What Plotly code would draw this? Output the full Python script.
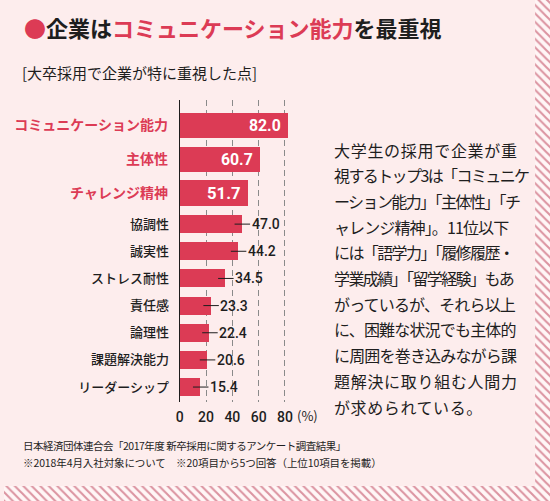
import plotly.graph_objects as go

# data
top_labels = ["コミュニケーション能力", "主体性", "チャレンジ精神"]
top_values = [82.0, 60.7, 51.7]
rest_labels = ["協調性", "誠実性", "ストレス耐性", "責任感", "論理性", "課題解決能力", "リーダーシップ"]
rest_values = [47.0, 44.2, 34.5, 23.3, 22.4, 20.6, 15.4]
x_ticks = [0, 20, 40, 60, 80]

title_parts = ["●", "企業は", "コミュニケーション能力", "を最重視"]
subtitle = "[大卒採用で企業が特に重視した点]"
body_lines = [
    "大学生の採用で企業が重",
    "視するトップ3は「コミュニケ",
    "ーション能力」「主体性」「チ",
    "ャレンジ精神」。11位以下",
    "には「語学力」「履修履歴・",
    "学業成績」「留学経験」もあ",
    "がっているが、それら以上",
    "に、困難な状況でも主体的",
    "に周囲を巻き込みながら課",
    "題解決に取り組む人間力",
    "が求められている。",
]
source_lines = [
    "日本経済団体連合会「2017年度 新卒採用に関するアンケート調査結果」",
    "※2018年4月入社対象について　※20項目から5つ回答（上位10項目を掲載）",
]

W, H = 550, 501
RED = "#dc3b55"
DARK = "#1e1e1e"
BG = "#fdeded"
JP = "Noto Sans CJK JP"
BODY_SIZE = 16
BODY_WIDTH = 183


def px(x):
    return x / W


def py(y):
    return 1 - y / H


def spacing(line):
    # rough text width: ascii ~0.55em, everything else full width
    units = sum(0.55 if ord(c) < 128 else 1.0 for c in line)
    ls = (BODY_WIDTH - units * BODY_SIZE) / max(len(line) - 1, 1)
    return max(ls, -1.6)


fig = go.Figure()

# top three bars, bigger
fig.add_trace(go.Bar(
    x=top_values, y=top_labels, orientation="h",
    xaxis="x", yaxis="y", width=0.74,
    marker=dict(color=RED, line=dict(width=0)),
    text=[f"{v:.1f} " for v in top_values],
    textposition="inside", insidetextanchor="end",
    textfont=dict(color="white", size=20, family="Roboto", weight=700),
    hoverinfo="skip",
))

# the rest
fig.add_trace(go.Bar(
    x=rest_values, y=rest_labels, orientation="h",
    xaxis="x2", yaxis="y2", width=0.66,
    marker=dict(color=RED, line=dict(width=0)),
    hoverinfo="skip",
))

# striped frame on right / bottom
fig.add_trace(go.Scatter(
    x=[535, 550, 550, 0, 0, 535, 535],
    y=[0, 0, 501, 501, 486, 486, 0],
    xaxis="x3", yaxis="y3",
    mode="lines", fill="toself", line=dict(width=0),
    fillcolor="rgba(0,0,0,0)",
    fillpattern=dict(shape="\\", fgcolor="#b8324c", bgcolor="#fff6f6",
                     size=6, solidity=0.35),
    hoverinfo="skip", showlegend=False,
))

xdom = [px(177), px(291)]
grid = dict(showgrid=True, gridcolor="#8a8a8a", gridwidth=1, griddash="6px,4px",
            zeroline=False, range=[0, 86], tickvals=x_ticks, fixedrange=True)

fig.update_layout(
    width=W, height=H,
    margin=dict(l=0, r=0, t=0, b=0),
    paper_bgcolor=BG, plot_bgcolor="rgba(0,0,0,0)",
    showlegend=False, bargap=0,
    xaxis=dict(domain=xdom, anchor="y", showticklabels=False, **grid),
    yaxis=dict(domain=[py(210), py(100)], anchor="x", type="category",
               range=[2.5, -0.74], showline=True, linecolor=DARK, linewidth=1,
               ticks="", ticklabelstandoff=8, fixedrange=True,
               tickfont=dict(family=JP, size=14, color=RED, weight=700)),
    xaxis2=dict(domain=xdom, anchor="y2", showticklabels=True, ticks="",
                ticklabelstandoff=5,
                tickfont=dict(family="Roboto", size=14, color=DARK, weight=500), **grid),
    yaxis2=dict(domain=[py(402), py(210)], anchor="x2", type="category",
                range=[6.55, -0.52], showline=True, linecolor=DARK, linewidth=1,
                ticks="", ticklabelstandoff=7, fixedrange=True,
                tickfont=dict(family=JP, size=13, color=DARK, weight=500)),
    xaxis3=dict(domain=[0, 1], range=[0, W], anchor="y3", visible=False, fixedrange=True),
    yaxis3=dict(domain=[0, 1], range=[H, 0], anchor="x3", visible=False, fixedrange=True),
)

ann = []

# value labels with leader lines for the lower bars
for lab, v in zip(rest_labels, rest_values):
    ann.append(dict(
        xref="x2", yref="y2", x=v, y=lab, xshift=-7,
        text=f"{v:.1f}", showarrow=True, arrowhead=0, arrowwidth=1,
        arrowcolor=DARK, ax=31, ay=0,
        font=dict(family="Roboto", size=14, color=DARK, weight=500),
    ))

title_html = (f"<span style='color:{RED}'>{title_parts[0]}</span>{title_parts[1]}"
              f"<span style='color:{RED}'>{title_parts[2]}</span>{title_parts[3]}")
ann.append(dict(xref="paper", yref="paper", x=px(18), y=py(27), xanchor="left",
                yanchor="middle", showarrow=False, text=title_html,
                font=dict(family=JP, size=22, color=DARK, weight=700)))
ann.append(dict(xref="paper", yref="paper", x=px(16), y=py(73), xanchor="left",
                yanchor="middle", showarrow=False, text=subtitle,
                font=dict(family=JP, size=15, color=DARK)))
ann.append(dict(xref="paper", yref="paper", x=px(293), y=py(415), xanchor="left",
                yanchor="middle", showarrow=False, text="(%)",
                font=dict(family=JP, size=13, color=DARK)))

# justified paragraph, last line left as is
for i, line in enumerate(body_lines):
    ls = spacing(line) if i < len(body_lines) - 1 else 0.6
    ann.append(dict(xref="paper", yref="paper", x=px(330), y=py(149.5 + 25.7 * i),
                    xanchor="left", yanchor="middle", showarrow=False,
                    text=f"<span style='letter-spacing:{ls:.2f}px'>{line}</span>",
                    font=dict(family=JP, size=BODY_SIZE, color=DARK)))

for i, (line, ls) in enumerate(zip(source_lines, [-0.5, -0.1])):
    ann.append(dict(xref="paper", yref="paper", x=px(17), y=py(445 + 17 * i),
                    xanchor="left", yanchor="middle", showarrow=False,
                    text=f"<span style='letter-spacing:{ls}px'>{line}</span>",
                    font=dict(family=JP, size=10.5, color=DARK)))

fig.update_layout(annotations=ann)

# page body has a default margin; drop it so the figure fills the window
fig.write_html("out.html", config={"displayModeBar": False},
               post_script="document.body.style.margin='0';")
